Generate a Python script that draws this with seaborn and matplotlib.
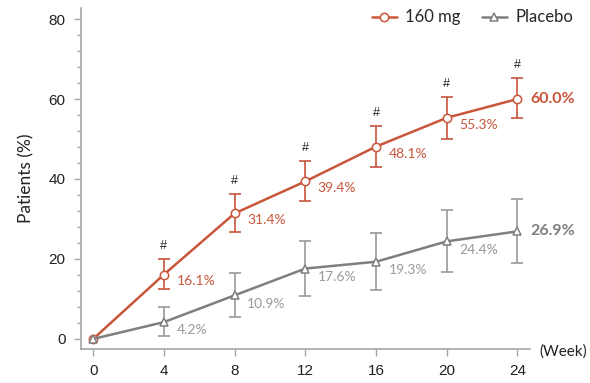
import matplotlib
matplotlib.use("Agg")
import matplotlib.pyplot as plt
import seaborn as sns
import pandas as pd
import numpy as np
from matplotlib.ticker import MultipleLocator

weeks = [0, 4, 8, 12, 16, 20, 24]
drug_pct = [0.0, 16.1, 31.4, 39.4, 48.1, 55.3, 60.0]
drug_low = [0.0, 12.4, 26.7, 34.5, 43.0, 50.1, 55.2]
drug_high = [0.0, 19.9, 36.2, 44.4, 53.3, 60.6, 65.3]
placebo_pct = [0.0, 4.2, 10.9, 17.6, 19.3, 24.4, 26.9]
placebo_low = [0.0, 0.8, 5.4, 10.8, 12.2, 16.7, 18.9]
placebo_high = [0.0, 7.9, 16.4, 24.6, 26.5, 32.2, 35.0]
drug_labels = ["", "16.1%", "31.4%", "39.4%", "48.1%", "55.3%", "60.0%"]
placebo_labels = ["", "4.2%", "10.9%", "17.6%", "19.3%", "24.4%", "26.9%"]
sig_marks = ["", "#", "#", "#", "#", "#", "#"]
series_names = ["160 mg", "Placebo"]
x_ticks = [0, 4, 8, 12, 16, 20, 24]
y_ticks = [0, 20, 40, 60, 80]

RED = "#C9553B"
GRAY = "#7F7F7F"
LGRAY = "#9A9A9A"

sns.set_style("ticks")
plt.rcParams["font.family"] = ["Liberation Sans", "DejaVu Sans"]

fig = plt.figure(figsize=(5.9, 3.83), dpi=100)
ax = fig.add_axes([0.137, 0.089, 0.761, 0.89])

df = pd.DataFrame({
    "week": weeks * 2,
    "pct": drug_pct + placebo_pct,
    "group": [series_names[0]] * len(weeks) + [series_names[1]] * len(weeks),
})

sns.lineplot(data=df, x="week", y="pct", hue="group", style="group",
             palette={series_names[0]: RED, series_names[1]: GRAY},
             markers={series_names[0]: "o", series_names[1]: "^"},
             dashes=False, ax=ax, linewidth=1.8, markersize=6,
             legend=False, zorder=3)
for ln in ax.get_lines():
    c = ln.get_color()
    ln.set_markerfacecolor("white")
    ln.set_markeredgecolor(c)
    ln.set_markeredgewidth(1.1)
handles = list(ax.get_lines()[:2])

# error bars
d = np.array(drug_pct); p = np.array(placebo_pct)
ax.errorbar(weeks[1:], d[1:],
            yerr=[d[1:] - np.array(drug_low[1:]), np.array(drug_high[1:]) - d[1:]],
            fmt="none", ecolor=RED, elinewidth=1.2, capsize=4, capthick=1.2, zorder=2)
ax.errorbar(weeks[1:], p[1:],
            yerr=[p[1:] - np.array(placebo_low[1:]), np.array(placebo_high[1:]) - p[1:]],
            fmt="none", ecolor=LGRAY, elinewidth=1.2, capsize=4, capthick=1.2, zorder=2)

lab_font = ["Lato", "DejaVu Sans"]
for i, w in enumerate(weeks):
    if drug_labels[i]:
        last = i == len(weeks) - 1
        ax.annotate(drug_labels[i], (w, drug_pct[i]),
                    xytext=(9, 0 if last else -5), textcoords="offset points",
                    color=RED, fontsize=11.5 if last else 10,
                    fontweight="bold" if last else "normal",
                    ha="left", va="center", family=lab_font)
    if placebo_labels[i]:
        last = i == len(weeks) - 1
        ax.annotate(placebo_labels[i], (w, placebo_pct[i]),
                    xytext=(9, 0 if last else -6), textcoords="offset points",
                    color=GRAY if last else LGRAY, fontsize=11.5 if last else 10,
                    fontweight="bold" if last else "normal",
                    ha="left", va="center", family=lab_font)
    if sig_marks[i]:
        ax.annotate(sig_marks[i], (w, drug_high[i]),
                    xytext=(0, 5), textcoords="offset points",
                    color="#222222", fontsize=9, ha="center", va="bottom")

ax.set_xlim(-0.7, 24.7)
ax.set_ylim(-2.5, 82.75)
ax.set_xticks(x_ticks)
ax.set_yticks(y_ticks)
ax.yaxis.set_minor_locator(MultipleLocator(4))
ax.tick_params(axis="both", which="major", length=5, width=1, color="#A6A6A6",
               labelsize=11, labelcolor="#222222", pad=6)
ax.tick_params(axis="y", which="minor", length=3, width=1, color="#A6A6A6")
for s in ["top", "right"]:
    ax.spines[s].set_visible(False)
for s in ["left", "bottom"]:
    ax.spines[s].set_color("#A6A6A6")
    ax.spines[s].set_linewidth(1.2)

ax.set_xlabel("")
ax.set_ylabel("Patients (%)", fontsize=12.5, color="#222222", labelpad=10,
              family=lab_font)
fig.text(0.914, 0.083, "(Week)", fontsize=11, color="#222222",
         ha="left", va="center", family=lab_font)

ax.legend(handles, series_names, loc="upper right", bbox_to_anchor=(1.13, 1.04),
          ncol=2, frameon=False, handlelength=1.5, columnspacing=1.3,
          handletextpad=0.5, prop={"family": lab_font, "size": 12})

fig.savefig("out.png", dpi=100)
